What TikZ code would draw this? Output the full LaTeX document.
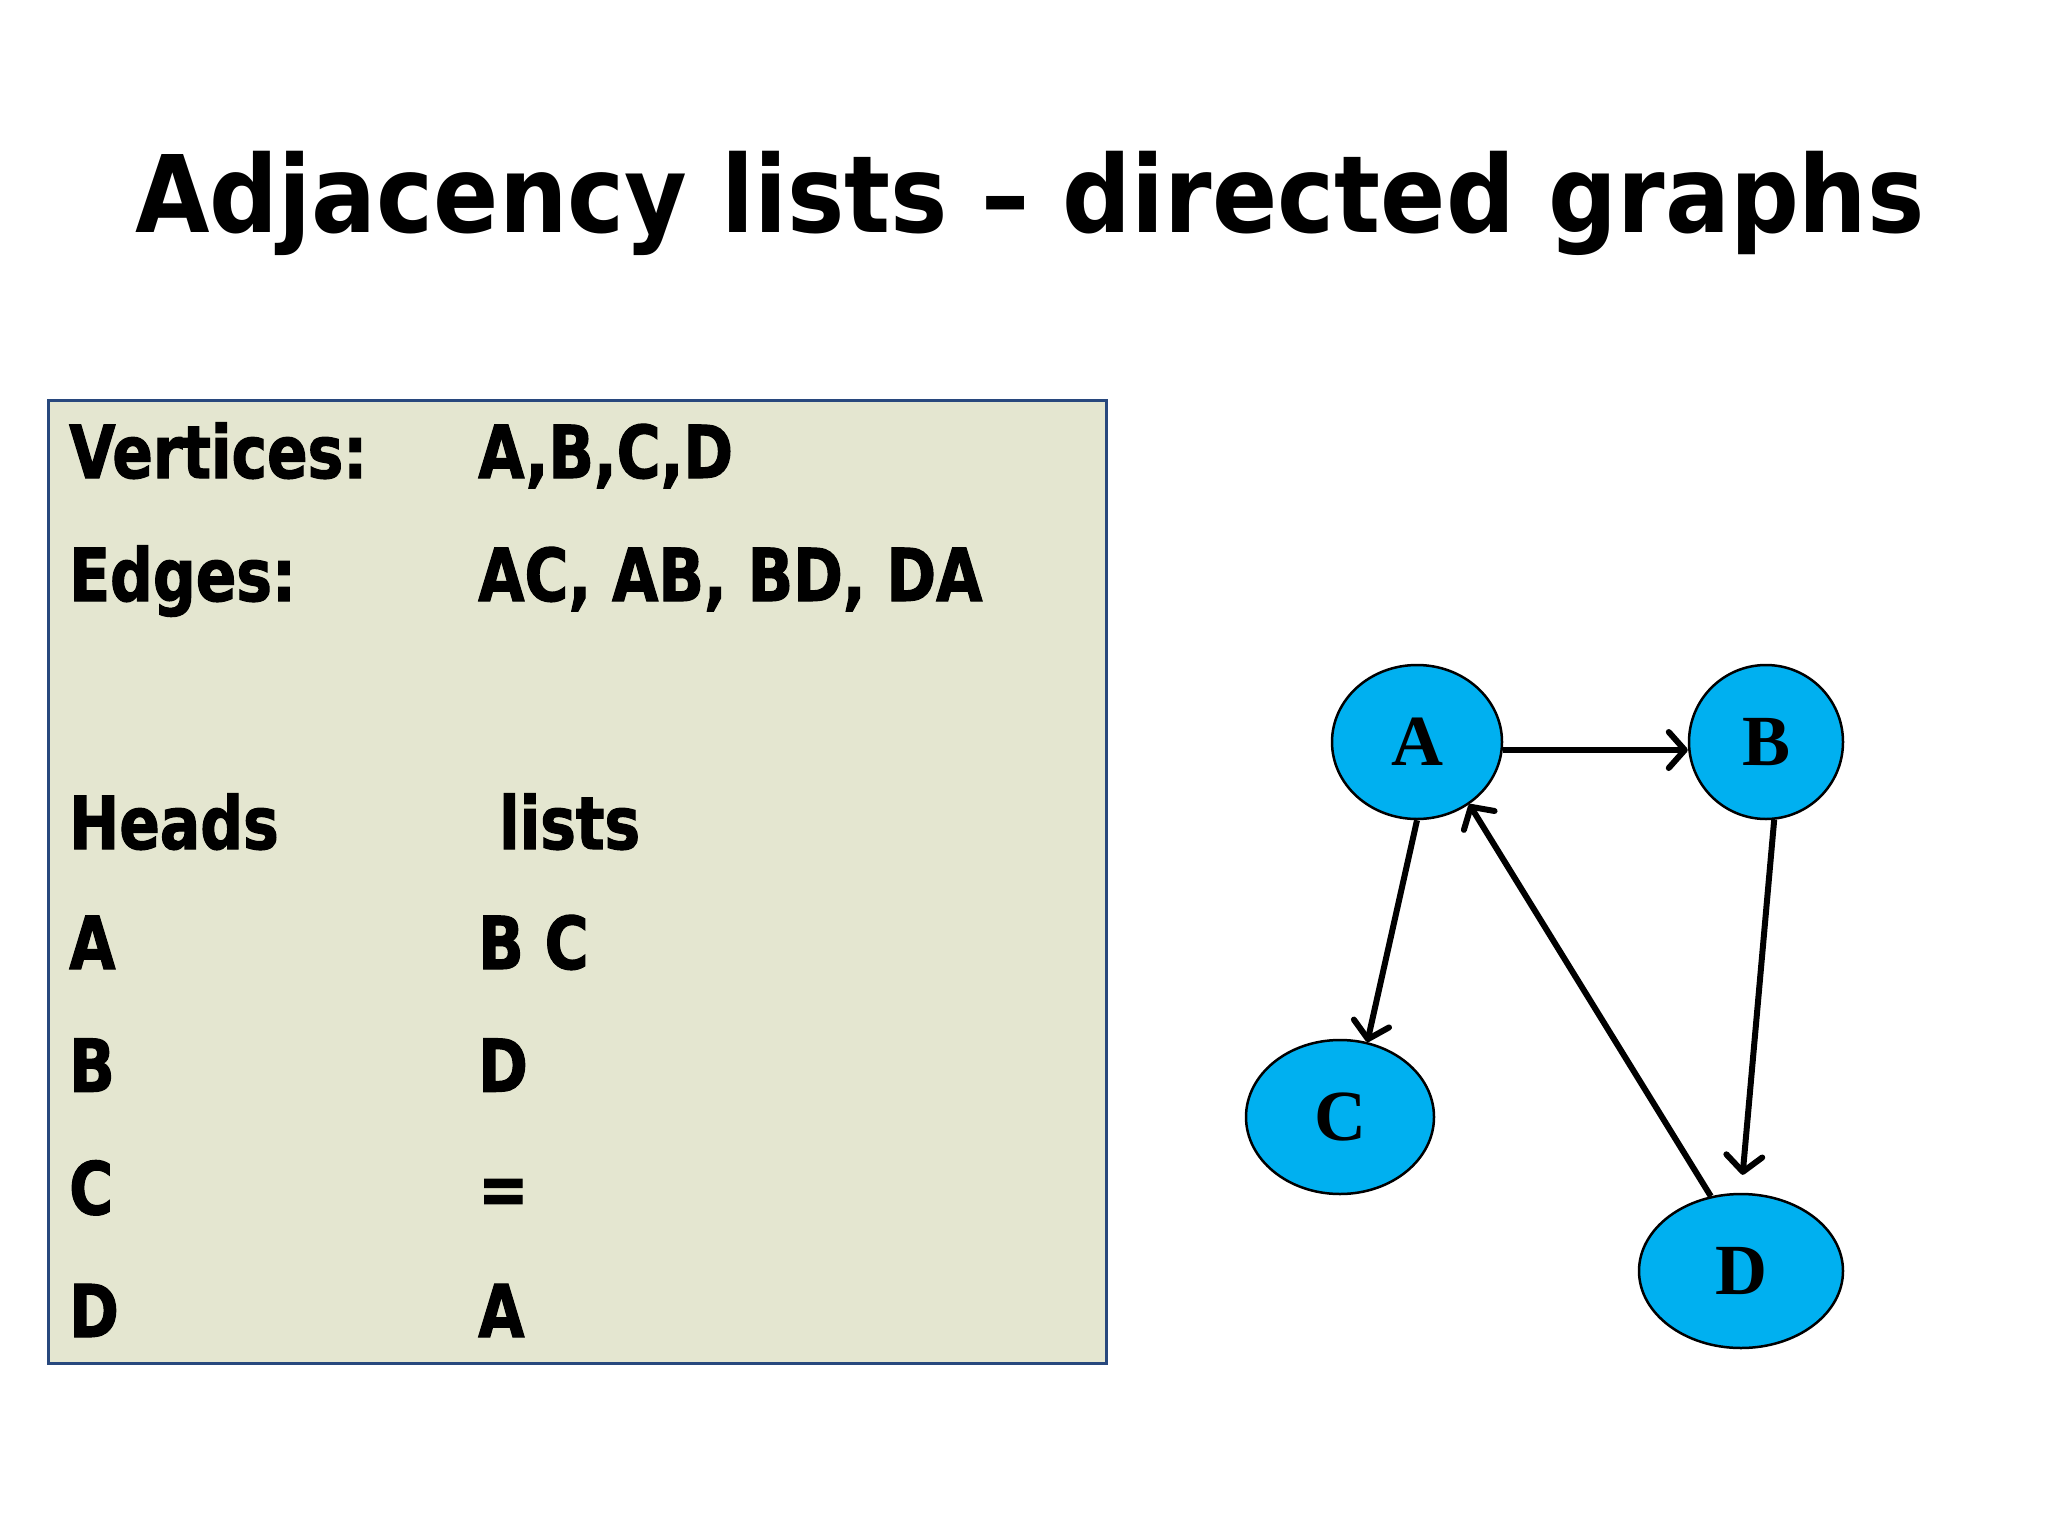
\documentclass[tikz,border=0pt]{standalone}
\usepackage{fontspec}
\usetikzlibrary{shapes.geometric,arrows.meta}
\newfontfamily\titlefont{DejaVu Sans}[FakeStretch=0.90]
\newfontfamily\listfont{DejaVu Sans}[FakeStretch=0.82,FakeBold=1.5]
\newfontfamily\vertexfont{Liberation Serif}
\definecolor{panelfill}{RGB}{228,230,208}
\definecolor{paneldraw}{RGB}{40,72,125}
\definecolor{vertexfill}{RGB}{0,176,240}

\begin{document}
\begin{tikzpicture}
[%%%%%%%%%%%%%%%%%%%%%%%%%%%%%%
x=1pt,y=-1pt,
vertex/.style={ellipse,draw=black,line width=2.5pt,fill=vertexfill,inner sep=0pt,
  font=\vertexfont\bfseries\fontsize{72}{72}\selectfont},
edge/.style={line width=6pt,-{Straight Barb[length=16pt,width=36pt,round]}},
entry/.style={anchor=base west,inner sep=0pt,font=\listfont\bfseries\fontsize{73}{80}\selectfont},
]%%%%%%%%%%%%%%%%%%%%%%%%%%%%%%

\useasboundingbox[fill=white] (0,0) rectangle (2048,1536);

\node[anchor=base,inner sep=0pt,font=\titlefont\bfseries\fontsize{107}{110}\selectfont]
  (title) at (1030,232) {Adjacency lists – directed graphs};

\draw[fill=panelfill,draw=paneldraw,line width=3pt] (48,400) rectangle (1106,1363);

\node[entry] (vertices) at (69,478) {Vertices:};
\node[entry] (vlist) at (478,478) {A,B,C,D};
\node[entry] (edges) at (69,601) {Edges:};
\node[entry] (elist) at (478,601) {AC, AB, BD, DA};
\node[entry] (heads) at (69,849) {Heads};
\node[entry] (lists) at (499,849) {lists};
\foreach \head/\tail [count=\i from 0] in {A/B C,B/D,C/=,D/A}{
\node[entry] (h\head) at (69,{969+122.7*\i}) {\head};
\node[entry] (l\head) at (478,{969+122.7*\i}) {\tail};
}

\node[vertex,minimum width=170pt,minimum height=154pt] (A) at (1417,742) {A};
\node[vertex,minimum width=154pt,minimum height=154pt] (B) at (1766,742) {B};
\node[vertex,minimum width=188pt,minimum height=154pt] (C) at (1340,1117) {C};
\node[vertex,minimum width=204pt,minimum height=154pt] (D) at (1741,1271) {D};

\draw[edge] ([yshift=-8pt]A.east) -- ([yshift=-8pt]B.west);
\draw[edge] (A.south) -- (C.70);
\draw[edge,shorten >=18pt] (B.-84) -- (D.north);
\draw[edge] (D.112) -- (A.-50);
\end{tikzpicture}
\end{document}
